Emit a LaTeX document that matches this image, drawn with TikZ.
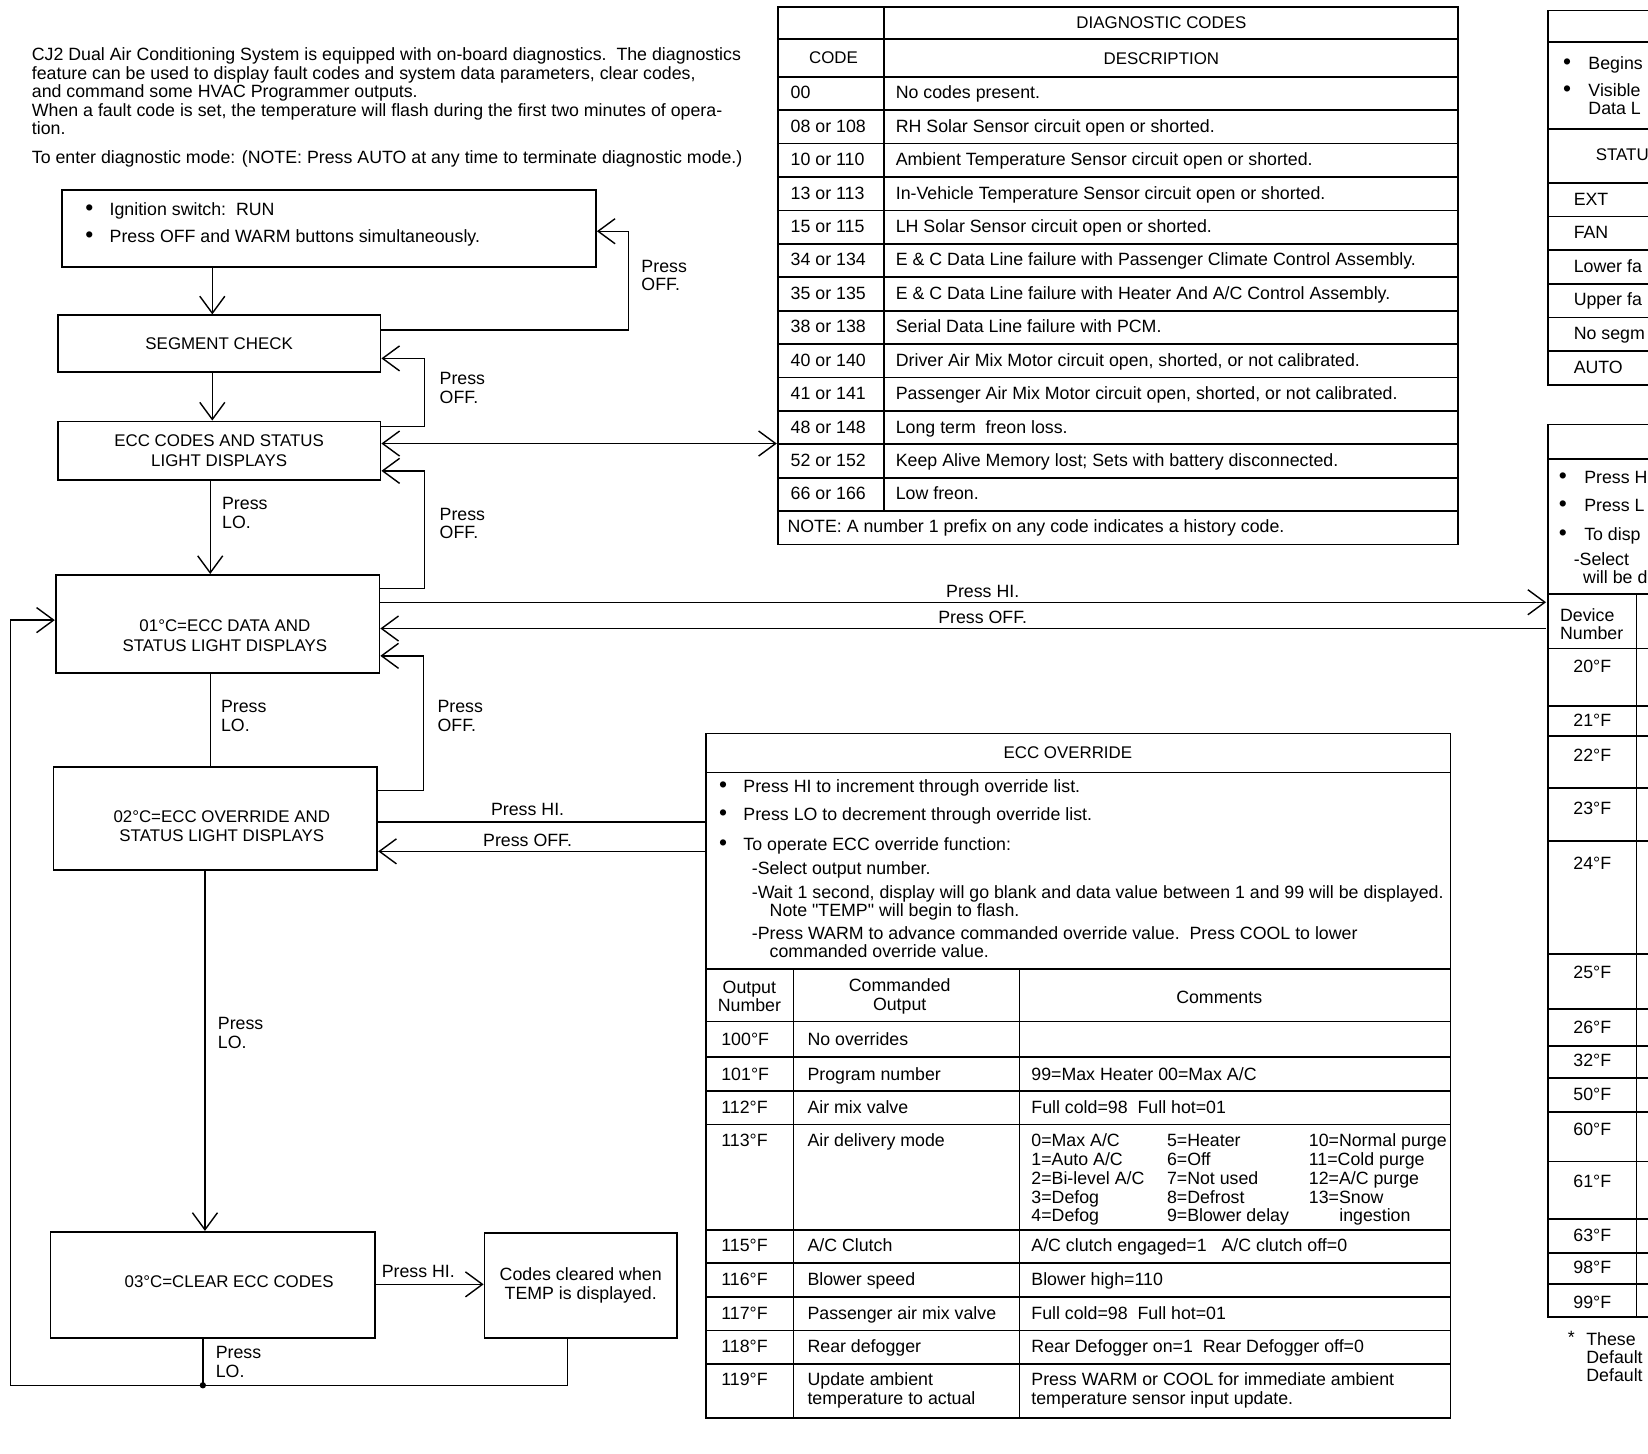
\documentclass[tikz,border=0pt]{standalone}
\usepackage{fontspec}
\setmainfont{Liberation Sans}
\usetikzlibrary{arrows.meta,positioning}
\tikzset{
  box/.style={draw, line width=1pt, inner sep=0pt, align=center},
  lbl/.style={inner sep=0pt, anchor=west, text height=1.6ex, text depth=.45ex},
  lbc/.style={inner sep=0pt, text height=1.6ex, text depth=.45ex},
  two/.style={inner sep=0pt, align=left, anchor=west},
  twc/.style={inner sep=0pt, align=center},
  lead/.style={inner sep=0pt, anchor=base west},
  caps/.style={font=\fontsize{9.6}{11.2}\selectfont},
  dot/.style={font=\fontsize{13}{13}\selectfont},
  flow/.style={line width=0.8pt, -{Straight Barb[length=3.4mm,width=5mm]}},
  dflow/.style={line width=0.8pt, {Straight Barb[length=3.4mm,width=5mm]}-{Straight Barb[length=3.4mm,width=5mm]}},
  link/.style={line width=0.8pt},
  rul/.style={line width=1pt},
}

\begin{document}
\begin{tikzpicture}[x=0.021cm, y=-0.021cm, every node/.style={font=\fontsize{10.1}{10.6}\selectfont}]
  \useasboundingbox (0,0) rectangle (1568,1383);
  % intro text
  \foreach \yy/\ln [count=\i] in {
    58/{CJ2 Dual Air Conditioning System is equipped with on-board diagnostics.\ \ The diagnostics},
    76/{feature can be used to display fault codes and system data parameters, clear codes,},
    93/{and command some HVAC Programmer outputs.},
    111/{When a fault code is set, the temperature will flash during the first two minutes of opera-},
    128/{tion.},
    156/{To enter diagnostic mode: (NOTE: Press AUTO at any time to terminate diagnostic mode.)}}
    \node[lead] (intro\i) at (30,\yy) {\ln};

  % flow boxes
  \node[box, minimum width=10.668cm, minimum height=1.533cm] (start) at (313,217.5) {};
  \node[lbc, dot] (b1) at (85,200) {\textbullet};
  \node[lbc, dot] (b2) at (85,226) {\textbullet};
  \node[lbl] (ign) at (104,200) {Ignition switch:\ \ RUN};
  \node[lbl] (prs) at (104,226) {Press OFF and WARM buttons simultaneously.};
  \node[box, caps, minimum width=6.447cm, minimum height=1.134cm] (seg) at (208.5,327) {SEGMENT CHECK};
  \node[box, caps, minimum width=6.447cm, minimum height=1.176cm] (codes) at (208.5,429) {ECC CODES AND STATUS\\LIGHT DISPLAYS};
  \node[box, minimum width=6.468cm, minimum height=1.953cm] (d01) at (207,593.5) {};
  \node[twc, caps] (d01t) at (214,605) {01°C=ECC DATA AND\\STATUS LIGHT DISPLAYS};
  \node[box, minimum width=6.468cm, minimum height=2.058cm] (d02) at (205,779) {};
  \node[twc, caps] (d02t) at (211,786) {02°C=ECC OVERRIDE AND\\STATUS LIGHT DISPLAYS};
  \node[box, minimum width=6.489cm, minimum height=2.121cm] (d03) at (202.5,1222.5) {};
  \node[lbc, caps] (d03t) at (218,1220) {03°C=CLEAR ECC CODES};
  \node[box, minimum width=3.843cm, minimum height=2.1cm] (clr) at (552.5,1223) {Codes cleared when\\TEMP is displayed.};
  \coordinate (junc) at (193,1318);
  \coordinate (devt) at (1471,590);

  % diagnostic codes table
  \node[box, minimum width=13.587cm, minimum height=10.731cm] (diag) at (1063.5,262.5) {};
  \draw[rul] (diag.west |- 0,37) -- (diag.east |- 0,37);
  \foreach \k [evaluate=\k as \yy using 73+31.8*\k] in {0,...,13}
    \draw[rul] (diag.west |- 0,\yy) -- (diag.east |- 0,\yy);
  \draw[rul] (841,0 |- diag.north) -- (841,486.4);
  \node[lbc, caps] (dch) at (1105,22) {DIAGNOSTIC CODES};
  \node[lbc, caps] (dcc) at (793,55) {CODE};
  \node[lbc, caps] (dcd) at (1105,56) {DESCRIPTION};
  \foreach \c/\d [count=\k from 0, evaluate=\k as \yy using 88.9+31.8*\k] in {
    00/{No codes present.},
    08 or 108/{RH Solar Sensor circuit open or shorted.},
    10 or 110/{Ambient Temperature Sensor circuit open or shorted.},
    13 or 113/{In-Vehicle Temperature Sensor circuit open or shorted.},
    15 or 115/{LH Solar Sensor circuit open or shorted.},
    34 or 134/{E \& C Data Line failure with Passenger Climate Control Assembly.},
    35 or 135/{E \& C Data Line failure with Heater And A/C Control Assembly.},
    38 or 138/{Serial Data Line failure with PCM.},
    40 or 140/{Driver Air Mix Motor circuit open, shorted, or not calibrated.},
    41 or 141/{Passenger Air Mix Motor circuit open, shorted, or not calibrated.},
    48 or 148/{Long term\ \ freon loss.},
    52 or 152/{Keep Alive Memory lost; Sets with battery disconnected.},
    66 or 166/{Low freon.}} {
    \node[lbl] (code\k) at (752,\yy) {\c};
    \node[lbl] (desc\k) at (852,\yy) {\d};
  }
  \node[lbl] (dcn) at (749,502) {NOTE: A number 1 prefix on any code indicates a history code.};

  % ecc override table
  \node[box, minimum width=14.868cm, minimum height=13.671cm] (ovr) at (1026,1023.5) {};
  \foreach \yy in {735,922,972,1006,1038,1070,1170,1202,1234,1266,1298}
    \draw[rul] (ovr.west |- 0,\yy) -- (ovr.east |- 0,\yy);
  \foreach \xx in {755,970}
    \draw[rul] (\xx,922) -- (\xx,0 |- ovr.south);
  \node[lbc, caps] (ovt) at (1016,717) {ECC OVERRIDE};
  \foreach \yy/\ln [count=\i] in {
    749/{Press HI to increment through override list.},
    776/{Press LO to decrement through override list.},
    804/{To operate ECC override function:}} {
    \node[lbc, dot] (ob\i) at (688,\yy) {\textbullet};
    \node[lbl] (ol\i) at (707,\yy) {\ln};
  }
  \node[lbl] (os1) at (715,827) {-Select output number.};
  \node[lbl] (os2) at (715,850) {-Wait 1 second, display will go blank and data value between 1 and 99 will be displayed.};
  \node[lbl] (os3) at (732,867) {Note \textquotedbl TEMP\textquotedbl\ will begin to flash.};
  \node[lbl] (os4) at (715,889) {-Press WARM to advance commanded override value.\ \ Press COOL to lower};
  \node[lbl] (os5) at (732,906) {commanded override value.};
  \node[twc] (oh1) at (713,948) {Output\\Number};
  \node[twc] (oh2) at (856,948) {Commanded\\Output};
  \node[lbc] (oh3) at (1160,950) {Comments};
  \foreach \yy/\n/\o/\cm [count=\i] in {
    990/100°F/{No overrides}/{},
    1023/101°F/{Program number}/{99=Max Heater 00=Max A/C},
    1054/112°F/{Air mix valve}/{Full cold=98\ \ Full hot=01},
    1086/113°F/{Air delivery mode}/{0=Max A/C},
    1186/115°F/{A/C Clutch}/{A/C clutch engaged=1\ \ \ A/C clutch off=0},
    1218/116°F/{Blower speed}/{Blower high=110},
    1250/117°F/{Passenger air mix valve}/{Full cold=98\ \ Full hot=01},
    1282/118°F/{Rear defogger}/{Rear Defogger on=1\ \ Rear Defogger off=0},
    1313/119°F/{Update ambient}/{Press WARM or COOL for immediate ambient}} {
    \node[lbl] (on\i) at (686,\yy) {\n};
    \node[lbl] (oo\i) at (768,\yy) {\o};
    \node[lbl] (oc\i) at (981,\yy) {\cm};
  }
  \node[lbl] (oo10) at (768,1331) {temperature to actual};
  \node[lbl] (oc10) at (981,1331) {temperature sensor input update.};
  \foreach \yy/\ca/\cb/\cc [count=\i] in {
    1104/{1=Auto A/C}/{6=Off}/{11=Cold purge},
    1122/{2=Bi-level A/C}/{7=Not used}/{12=A/C purge},
    1140/{3=Defog}/{8=Defrost}/{13=Snow},
    1157/{4=Defog}/{9=Blower delay}/{}} {
    \node[lbl] (ma\i) at (981,\yy) {\ca};
    \node[lbl] (mb\i) at (1110,\yy) {\cb};
    \node[lbl] (mc\i) at (1245,\yy) {\cc};
  }
  \node[lbl] (mb0) at (1110,1086) {5=Heater};
  \node[lbl] (mc0) at (1245,1086) {10=Normal purge};
  \node[lbl] (mc5) at (1274,1157) {ingestion};

  % status table (cut at right edge)
  \draw[rul] (1580,10) -- (1473,10) -- (1473,366) -- (1580,366);
  \foreach \yy in {40,123,174,206,238,270,302,334}
    \draw[rul] (1473,\yy) -- (1580,\yy);
  \node[lbc, dot] (sb1) at (1491,61) {\textbullet};
  \node[lbl] (sl1) at (1511,61) {Begins};
  \node[lbc, dot] (sb2) at (1491,87) {\textbullet};
  \node[lbl] (sl2) at (1511,87) {Visible};
  \node[lbl] (sl3) at (1511,104) {Data L};
  \node[lbl, caps] (sst) at (1518,148) {STATU};
  \foreach \yy/\ln [count=\i] in {190/EXT,222/FAN,254/Lower fa,286/Upper fa,318/No segm,350/AUTO}
    \node[lbl] (sr\i) at (1497,\yy) {\ln};

  % device table (cut at right edge)
  \draw[rul] (1580,404) -- (1473,404) -- (1473,1253) -- (1580,1253);
  \foreach \yy in {437,565,617,672,700,750,800,908,960,995,1026,1058,1105,1160,1192,1222}
    \draw[rul] (1473,\yy) -- (1580,\yy);
  \draw[rul] (1557,565) -- (1557,1253);
  \foreach \yy/\ln [count=\i] in {455/Press H,482/Press L,509/To disp} {
    \node[lbc, dot] (vb\i) at (1487,\yy) {\textbullet};
    \node[lbl] (vl\i) at (1507,\yy) {\ln};
  }
  \node[lbl] (vs1) at (1497,533) {-Select};
  \node[lbl] (vs2) at (1506,550) {will be d};
  \node[two] (vh) at (1484,594) {Device\\Number};
  \foreach \yy/\ln [count=\i] in {635/20,686/21,719/22,770/23,822/24,926/25,978/26,1010/32,1042/50,1075/60,1125/61,1176/63,1207/98,1240/99}
    \node[lbc] (vt\i) at (1515,\yy) {\ln°F};
  \node[lbc] (fs) at (1495,1273) {*};
  \node[lbl] (fn1) at (1509,1275) {These};
  \node[lbl] (fn2) at (1509,1292) {Default};
  \node[lbl] (fn3) at (1509,1309) {Default};

  % connectors
  \draw[flow] (202,0 |- start.south) -- (202,0 |- seg.north);
  \draw[flow] (seg.east |- 0,314) -- (598,314) -- (598,220) -- (start.east |- 0,220);
  \node[two] (off1) at (610,262) {Press\\OFF.};
  \draw[flow] (202,0 |- seg.south) -- (202,0 |- codes.north);
  \draw[flow] (codes.east |- 0,406) -- (404,406) -- (404,341) -- (seg.east |- 0,341);
  \node[two] (off2) at (418,369) {Press\\OFF.};
  \draw[dflow] (codes.east |- 0,422) -- (diag.west |- 0,422);
  \draw[flow] (200,0 |- codes.south) -- (200,0 |- d01.north);
  \node[two] (lo1) at (211,488) {Press\\LO.};
  \draw[flow] (d01.east |- 0,560) -- (404,560) -- (404,448) -- (codes.east |- 0,448);
  \node[two] (off3) at (418,498) {Press\\OFF.};
  \draw[flow] (d01.east |- 0,573) -- (devt |- 0,573);
  \node[lbc] (hi1) at (935,563) {Press HI.};
  \draw[flow] (devt |- 0,598) -- (d01.east |- 0,598);
  \node[lbc] (off4) at (935,588) {Press OFF.};
  \draw[link] (200,0 |- d01.south) -- (200,0 |- d02.north);
  \node[two] (lo2) at (210,681) {Press\\LO.};
  \draw[flow] (d02.east |- 0,752) -- (403,752) -- (403,624) -- (d01.east |- 0,624);
  \node[two] (off5) at (416,681) {Press\\OFF.};
  \draw[link] (d02.east |- 0,782) -- (ovr.west |- 0,782);
  \node[lbc] (hi2) at (502,771) {Press HI.};
  \draw[flow] (ovr.west |- 0,810) -- (d02.east |- 0,810);
  \node[lbc] (off6) at (502,800) {Press OFF.};
  \draw[flow] (195,0 |- d02.south) -- (195,0 |- d03.north);
  \node[two] (lo3) at (207,983) {Press\\LO.};
  \draw[flow] (d03.east |- 0,1222) -- (clr.west |- 0,1222);
  \node[lbc] (hi3) at (398,1210) {Press HI.};
  \draw[link] (193,0 |- d03.south) -- (junc);
  \node[two] (lo4) at (205,1296) {Press\\LO.};
  \draw[link] (540,0 |- clr.south) -- (540,1318) -- (junc);
  \draw[flow] (junc) -- (10,1318) -- (10,590) -- (d01.west |- 0,590);
  \fill (junc) circle (1.8pt);
\end{tikzpicture}
\end{document}
